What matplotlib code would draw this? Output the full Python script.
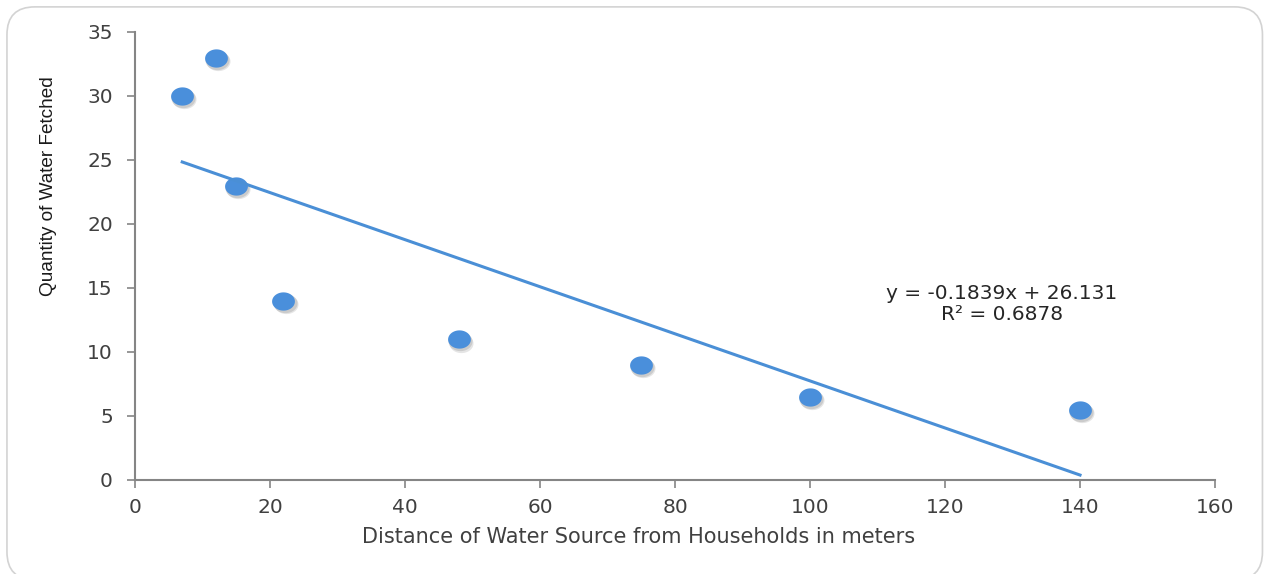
import numpy as np
import matplotlib.pyplot as plt
from matplotlib.patches import FancyBboxPatch
from matplotlib.path import Path
import matplotlib.transforms as mtransforms

# distance to water source (m) vs. quantity fetched
distance = [7, 12, 15, 22, 48, 75, 100, 140]
quantity = [30, 33, 23, 14, 11, 9, 6.5, 5.5]

# linear trend reported by the fit
slope = -0.1839
intercept = 26.131
r_squared = 0.6878

x_ticks = [0, 20, 40, 60, 80, 100, 120, 140, 160]
y_ticks = [0, 5, 10, 15, 20, 25, 30, 35]

point_color = "#4a8fdb"
line_color = "#4a8fd6"
axis_color = "#858585"
text_color = "#404040"

fig = plt.figure(figsize=(12.65, 5.74), dpi=100)
fig.patch.set_facecolor("white")

# rounded chart frame
frame = FancyBboxPatch((0.0055, -0.01), 0.9925, 0.998,
                       boxstyle="round,pad=0,rounding_size=0.022",
                       transform=fig.transFigure, facecolor="none",
                       edgecolor="#d3d3d3", linewidth=1.2,
                       mutation_aspect=1265 / 574)
fig.patches.append(frame)

ax = fig.add_axes([0.1067, 0.1638, 0.8538, 0.7805])

# slightly flattened circle as marker
theta = np.linspace(0, 2 * np.pi, 60)
ellipse = Path(np.column_stack([np.cos(theta), 0.8 * np.sin(theta)]), closed=True)

# soft drop shadow under the points
for dx, dy, a in [(1.5, -2.5, 0.15), (0.8, -1.5, 0.18)]:
    shadow = mtransforms.offset_copy(ax.transData, fig=fig, x=dx, y=dy, units="points")
    ax.scatter(distance, quantity, s=300, marker=ellipse, color="#555555",
               alpha=a, linewidths=0, transform=shadow, zorder=2)
ax.scatter(distance, quantity, s=270, marker=ellipse, color=point_color,
           linewidths=0, zorder=3)

x_fit = np.array([min(distance), max(distance)])
ax.plot(x_fit, slope * x_fit + intercept, color=line_color, linewidth=2.2, zorder=4)

ax.text(128.4, 13.75, f"y = {slope}x + {intercept}\nR² = {r_squared}",
        ha="center", va="center", fontsize=14.5, color="#262626",
        linespacing=1.15)

ax.set_xlim(0, 160)
ax.set_ylim(0, 35)
ax.set_xticks(x_ticks)
ax.set_yticks(y_ticks)

for side in ["top", "right"]:
    ax.spines[side].set_visible(False)
for side in ["left", "bottom"]:
    ax.spines[side].set_color(axis_color)
    ax.spines[side].set_linewidth(1.5)

ax.tick_params(direction="out", length=6, width=1.2, color=axis_color,
               labelcolor=text_color, labelsize=14.5)
ax.tick_params(axis="y", pad=10)
ax.tick_params(axis="x", pad=7)

ax.set_xlabel("Distance of Water Source from Households in meters",
              fontsize=15, color=text_color)
ax.xaxis.set_label_coords(0.466, -0.105)
ax.set_ylabel("Quantity of Water Fetched", fontsize=13.7, color="#1a1a1a",
              family=["Liberation Sans", "DejaVu Sans"])
ax.yaxis.set_label_coords(-0.072, 0.656)

fig.savefig("out.png", dpi=100)
